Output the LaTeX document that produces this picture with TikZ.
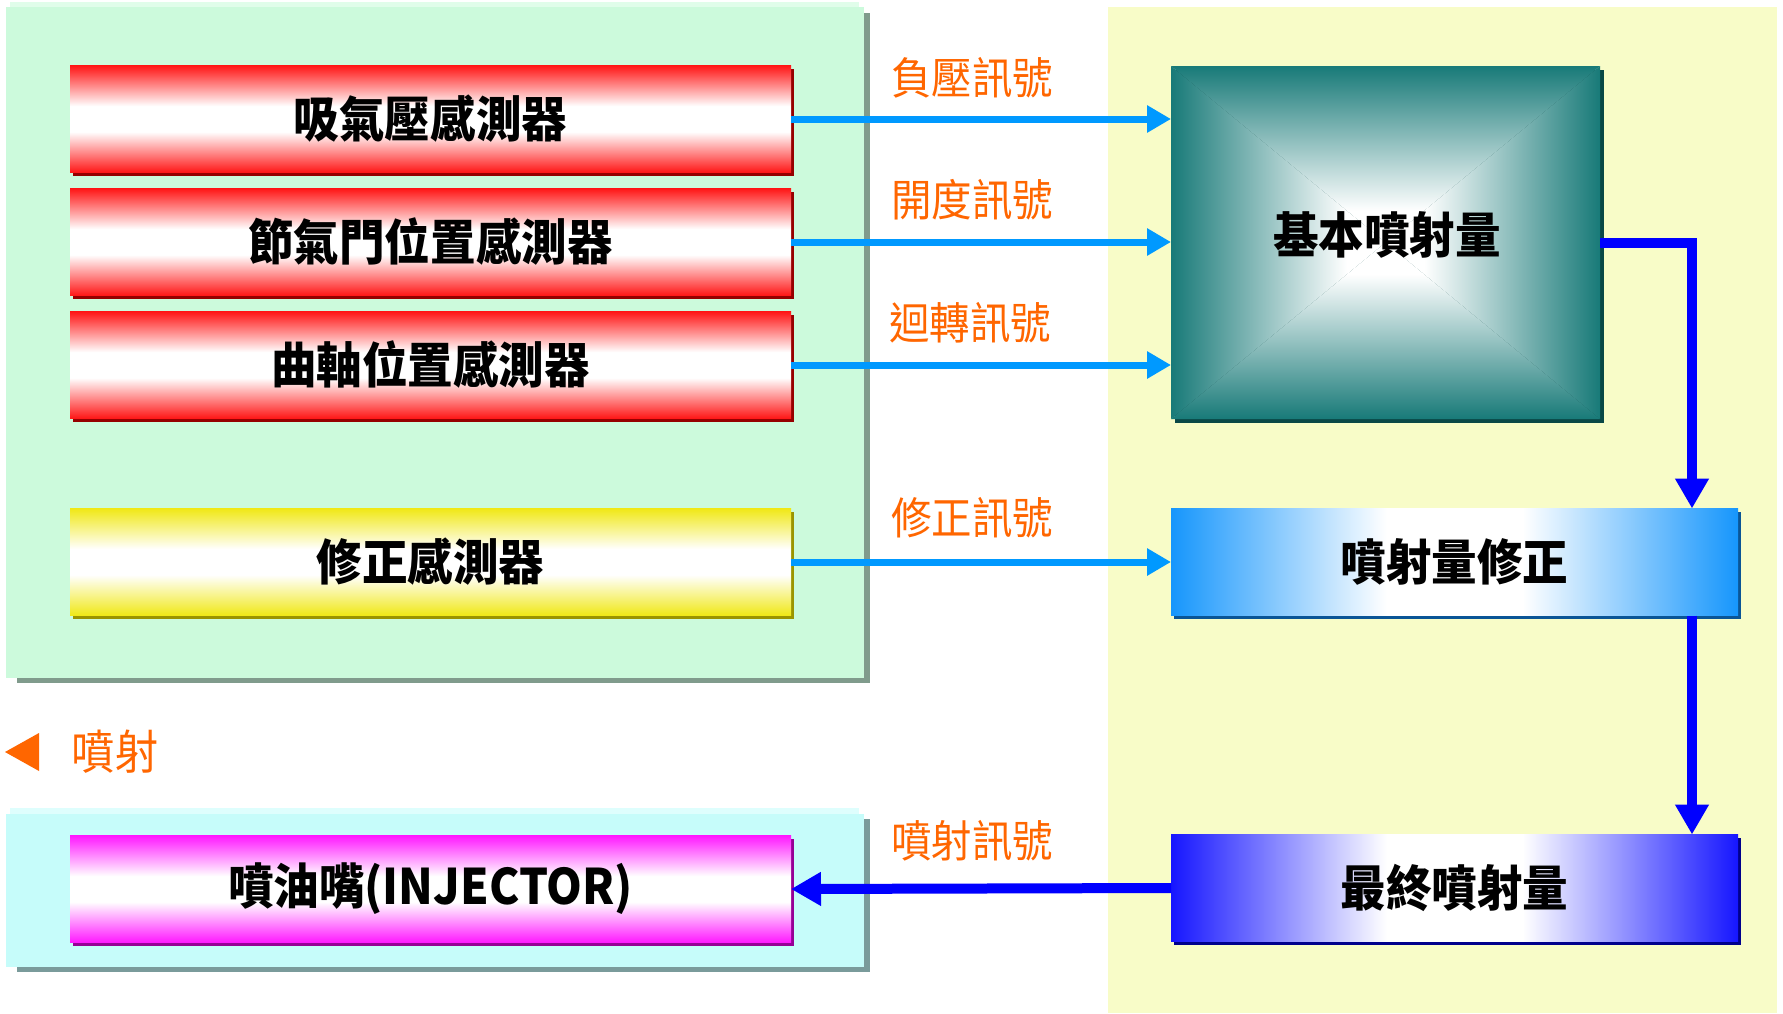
\documentclass[tikz,border=0pt]{standalone}
\usepackage{fontspec}
\newfontfamily\cjk{Noto Sans CJK TC}[FakeStretch=0.93]
\newfontfamily\cjkl{Noto Sans CJK TC}[FakeStretch=0.92]
\usetikzlibrary{arrows.meta,shadows,calc}
\pgfdeclarelayer{bg}
\pgfsetlayers{bg,main}

\definecolor{cRed}{RGB}{255,22,22}
\definecolor{cRedS}{RGB}{150,0,0}
\definecolor{cYel}{RGB}{240,232,22}
\definecolor{cYelS}{RGB}{155,148,0}
\definecolor{cMag}{RGB}{255,24,255}
\definecolor{cMagS}{RGB}{150,0,150}
\definecolor{cLBlue}{RGB}{22,150,252}
\definecolor{cLBlueS}{RGB}{10,85,150}
\definecolor{cDBlue}{RGB}{22,22,255}
\definecolor{cDBlueS}{RGB}{0,0,140}
\definecolor{cTeal}{RGB}{24,122,120}
\definecolor{cTealS}{RGB}{10,72,70}
\definecolor{cGreen}{RGB}{204,250,220}
\definecolor{cGreenH}{RGB}{224,253,234}
\definecolor{cGreenS}{RGB}{128,155,140}
\definecolor{cCyan}{RGB}{198,252,250}
\definecolor{cCyanH}{RGB}{222,254,253}
\definecolor{cCyanS}{RGB}{122,155,155}
\definecolor{cPale}{RGB}{248,252,200}
\definecolor{cOrange}{RGB}{255,102,0}
\definecolor{cSig}{RGB}{0,153,255}
\definecolor{cFlow}{RGB}{0,0,255}

\pgfdeclareverticalshading{redsh}{100bp}{color(0bp)=(cRed); color(25bp)=(cRed); color(44bp)=(white); color(56bp)=(white); color(75bp)=(cRed); color(100bp)=(cRed)}
\pgfdeclareverticalshading{yelsh}{100bp}{color(0bp)=(cYel); color(25bp)=(cYel); color(44bp)=(white); color(56bp)=(white); color(75bp)=(cYel); color(100bp)=(cYel)}
\pgfdeclareverticalshading{magsh}{100bp}{color(0bp)=(cMag); color(25bp)=(cMag); color(44bp)=(white); color(56bp)=(white); color(75bp)=(cMag); color(100bp)=(cMag)}
\pgfdeclarehorizontalshading{lbluesh}{100bp}{color(0bp)=(cLBlue); color(25bp)=(cLBlue); color(44bp)=(white); color(56bp)=(white); color(75bp)=(cLBlue); color(100bp)=(cLBlue)}
\pgfdeclarehorizontalshading{dbluesh}{100bp}{color(0bp)=(cDBlue); color(25bp)=(cDBlue); color(44bp)=(white); color(56bp)=(white); color(75bp)=(cDBlue); color(100bp)=(cDBlue)}
\pgfdeclareverticalshading{tealedge}{100bp}{color(0bp)=(white); color(25bp)=(white); color(34bp)=(white); color(75bp)=(cTeal); color(100bp)=(cTeal)}

\tikzset{
  box/.style={inner sep=0pt, outer sep=0pt, minimum height=107pt,
    font={\cjk\bfseries\fontsize{49pt}{52pt}\selectfont}},
  sensorbox/.style={box, minimum width=721pt},
  rightbox/.style={box, minimum width=567pt},
  shad/.style={drop shadow={shadow xshift=3pt, shadow yshift=-3pt, fill=#1, opacity=1}},
  lab/.style={inner sep=0pt, text=cOrange, font={\cjkl\fontsize{44pt}{47pt}\selectfont}},
  sig/.style={draw=cSig, line width=7pt, -{Triangle[length=24pt,width=26pt]}},
  flow/.style={draw=cFlow, line width=10pt, -{Triangle[length=30pt,width=32pt]}},
}

\begin{document}
\begin{tikzpicture}[x=1pt, y=-1pt]
\useasboundingbox (0,0) rectangle (1783,1013);

% sensors
\node[sensorbox, shading=redsh, shad=cRedS] (s1) at (430.5,119) {吸氣壓感測器};
\node[sensorbox, shading=redsh, shad=cRedS] (s2) at (430.5,242) {節氣門位置感測器};
\node[sensorbox, shading=redsh, shad=cRedS] (s3) at (430.5,365) {曲軸位置感測器};
\node[sensorbox, shading=yelsh, shad=cYelS] (s4) at (430.5,562) {修正感測器};
\node[sensorbox, shading=magsh, shad=cMagS] (inj) at (430.5,889) {噴油嘴(INJECTOR)};

% right side
\node[inner sep=0pt, outer sep=0pt, minimum width=429pt, minimum height=353pt] (teal) at (1385.5,242.5) {};
\node[inner sep=0pt, font={\cjk\bfseries\fontsize{49pt}{52pt}\selectfont}] (tealtxt) at (1387,235) {基本噴射量};
\node[rightbox, shading=lbluesh, shad=cLBlueS] (fix) at (1454.5,562) {噴射量修正};
\node[rightbox, shading=dbluesh, shad=cDBlueS] (final) at (1454.5,888) {最終噴射量};

% labels
\node[lab] (l1) at (972,78) {負壓訊號};
\node[lab] (l2) at (972,200) {開度訊號};
\node[lab] (l3) at (970,323) {迴轉訊號};
\node[lab] (l4) at (972,518) {修正訊號};
\node[lab] (l5) at (972,841) {噴射訊號};
\node[inner sep=0pt, text=cOrange, font={\cjkl\fontsize{47pt}{50pt}\selectfont}] (spray) at (115,752) {噴射};
\fill[cOrange] (5,752) -- (39,733) -- (39,771) -- cycle;

% connectors
\draw[sig] (s1.east) -- (s1.east -| teal.west);
\draw[sig] (s2.east) -- (s2.east -| teal.west);
\draw[sig] (s3.east) -- (s3.east -| teal.west);
\draw[sig] (s4.east) -- (fix.west);
\coordinate (c1) at ($(fix.north east)+(-46,0)$);
\coordinate (c2) at ($(fix.south east)+(-46,0)$);
\coordinate (c3) at ($(final.north east)+(-46,0)$);
\draw[flow] (teal.east) -| (c1);
\draw[flow] (c2) -- (c3);
\draw[flow] (final.west) -- (inj.east);

\begin{pgfonlayer}{bg}
  \fill[white] (0,0) rectangle (1783,1013);
  \fill[cPale] (1108,7) rectangle (1777,1013);
  \fill[cGreenS] (17,13) rectangle (870,683);
  \fill[cGreenH] (10,2) rectangle (859,674);
  \fill[cGreen] (6,7) rectangle (864,678);
  \fill[cCyanS] (17,819) rectangle (870,972);
  \fill[cCyanH] (10,808) rectangle (859,960);
  \fill[cCyan] (6,814) rectangle (864,967);
  \fill[cTealS] ($(teal.north west)+(4,4)$) rectangle ($(teal.south east)+(4,4)$);
  \shade[shading=tealedge] (teal.north west) -- (teal.north east) -- (teal.center) -- cycle;
  \shade[shading=tealedge, shading angle=180] (teal.south west) -- (teal.south east) -- (teal.center) -- cycle;
  \shade[shading=tealedge, shading angle=90] (teal.north west) -- (teal.south west) -- (teal.center) -- cycle;
  \shade[shading=tealedge, shading angle=-90] (teal.north east) -- (teal.south east) -- (teal.center) -- cycle;
\end{pgfonlayer}
\end{tikzpicture}
\end{document}
